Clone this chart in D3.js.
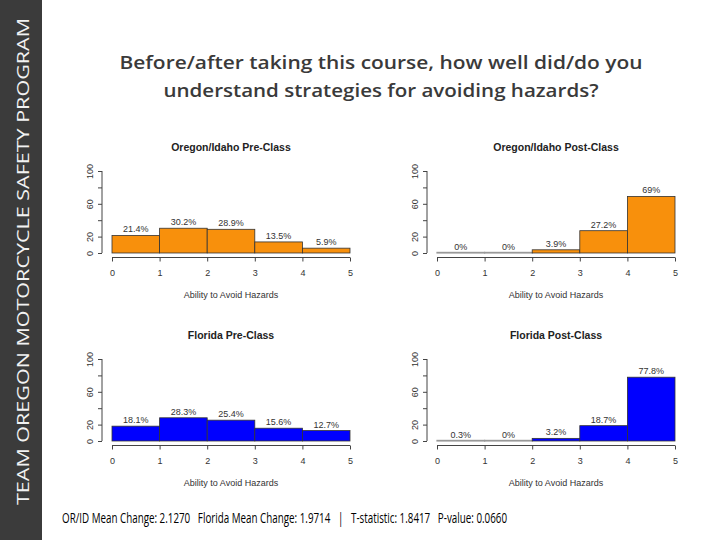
<!DOCTYPE html>
<html>
<head>
<meta charset="utf-8">
<script src="https://cdn.jsdelivr.net/npm/d3@7"></script>
<style>
  body { margin: 0; background: #fff; }
  svg { display: block; }
</style>
</head>
<body>
<svg id="chart" width="720" height="540"></svg>
<script>
// data
const binEdges = [0, 1, 2, 3, 4, 5];
const yTicks = [0, 20, 40, 60, 80, 100];
const yTickLabels = [0, 20, 60, 100];
const panelTitles = ["Oregon/Idaho Pre-Class", "Oregon/Idaho Post-Class", "Florida Pre-Class", "Florida Post-Class"];
const orPre = [21.4, 30.2, 28.9, 13.5, 5.9];
const orPost = [0, 0, 3.9, 27.2, 69];
const flPre = [18.1, 28.3, 25.4, 15.6, 12.7];
const flPost = [0.3, 0, 3.2, 18.7, 77.8];
const panelColors = ["#f8900c", "#f8900c", "#0000ff", "#0000ff"];
const xLabel = "Ability to Avoid Hazards";
const headingLines = ["Before/after taking this course, how well did/do you", "understand strategies for avoiding hazards?"];
const headingWidths = [523, 435];
const footer = "OR/ID Mean Change: 2.1270   Florida Mean Change: 1.9714   |   T-statistic: 1.8417   P-value: 0.0660";
const sidebar = "TEAM OREGON MOTORCYCLE SAFETY PROGRAM";

const svg = d3.select("#chart");

// sidebar
svg.append("rect").attr("x", 0).attr("y", 0).attr("width", 42).attr("height", 540).attr("fill", "#3b3b3b");
svg.append("text")
  .attr("transform", "translate(29,505) rotate(-90)")
  .attr("font-family", "Open Sans, sans-serif")
  .attr("font-size", 17)
  .attr("fill", "#f2f2f2")
  .attr("textLength", 487)
  .attr("lengthAdjust", "spacingAndGlyphs")
  .text(sidebar);

// heading, two lines
svg.selectAll("text.heading")
  .data(headingLines)
  .join("text")
  .attr("class", "heading")
  .attr("x", 381)
  .attr("y", (d, i) => 69 + i * 28)
  .attr("text-anchor", "middle")
  .attr("font-family", "Open Sans, sans-serif")
  .attr("font-size", 18)
  .attr("font-weight", 600)
  .attr("fill", "#3a3a3a")
  .attr("textLength", (d, i) => headingWidths[i])
  .attr("lengthAdjust", "spacingAndGlyphs")
  .text(d => d);

// footer
svg.append("text")
  .attr("x", 62).attr("y", 523)
  .attr("font-family", "Liberation Sans Narrow, Open Sans, sans-serif")
  .attr("font-size", 14)
  .attr("fill", "#000")
  .attr("textLength", 445)
  .attr("lengthAdjust", "spacingAndGlyphs")
  .attr("xml:space", "preserve")
  .text(footer);

const panelData = [orPre, orPost, flPre, flPost];
const colX = [112, 437];
const rowY = [253, 441];
const plotW = 238, plotH = 82;

panelData.forEach((vals, i) => {
  const x0 = colX[i % 2], y0 = rowY[Math.floor(i / 2)];
  const x = d3.scaleLinear().domain([0, 5]).range([x0, x0 + plotW]);
  const y = d3.scaleLinear().domain([0, 100]).range([y0, y0 - plotH]);
  const g = svg.append("g").attr("font-family", "Liberation Sans, Arial, sans-serif");

  const bins = vals.map((v, k) => ({ lo: binEdges[k], hi: binEdges[k + 1], v }));

  // tiny bars collapse to a grey outline, as in R
  g.selectAll("rect.bar")
    .data(bins)
    .join("rect")
    .attr("class", "bar")
    .attr("x", d => x(d.lo))
    .attr("width", d => x(d.hi) - x(d.lo))
    .attr("y", d => Math.min(y(d.v), y(0) - 0.6))
    .attr("height", d => Math.max(y(0) - y(d.v), 0.6))
    .attr("fill", d => d.v < 1 ? "#999" : panelColors[i])
    .attr("stroke", d => d.v < 1 ? "#999" : "#333")
    .attr("stroke-width", d => d.v < 1 ? 1.2 : 0.8);

  g.selectAll("text.val")
    .data(bins)
    .join("text")
    .attr("class", "val")
    .attr("x", d => x((d.lo + d.hi) / 2))
    .attr("y", d => y(d.v) - 3)
    .attr("text-anchor", "middle")
    .attr("font-size", 9)
    .attr("fill", "#333")
    .text(d => d.v + "%");

  // x axis
  const xAxis = g.append("g")
    .attr("transform", `translate(0,${y0 + 4.5})`)
    .call(d3.axisBottom(x).tickValues(binEdges).tickSize(4).tickPadding(8).tickFormat(d3.format("d")));
  xAxis.select(".domain").attr("stroke", "#444").attr("d", `M${x0},0H${x0 + plotW}`);
  xAxis.selectAll(".tick line").attr("stroke", "#444");
  xAxis.selectAll(".tick text").attr("font-size", 9).attr("fill", "#333").attr("font-family", "Liberation Sans, Arial, sans-serif");

  // y axis
  const yAxis = g.append("g")
    .attr("transform", `translate(${x0 - 10},0)`)
    .call(d3.axisLeft(y).tickValues(yTicks).tickSize(4).tickFormat(d => yTickLabels.includes(d) ? d : ""));
  yAxis.select(".domain").attr("stroke", "#444").attr("d", `M0,${y0}V${y0 - plotH}`);
  yAxis.selectAll(".tick line").attr("stroke", "#444");
  yAxis.selectAll(".tick text")
    .attr("font-size", 9).attr("fill", "#333").attr("font-family", "Liberation Sans, Arial, sans-serif")
    .attr("x", null).attr("dy", null)
    .attr("text-anchor", "middle")
    .attr("transform", "translate(-9,0) rotate(-90)");

  g.append("text")
    .attr("x", x0 + plotW / 2).attr("y", y0 + 45)
    .attr("text-anchor", "middle")
    .attr("font-size", 9)
    .attr("fill", "#333")
    .text(xLabel);

  g.append("text")
    .attr("x", x0 + plotW / 2).attr("y", y0 - 102)
    .attr("text-anchor", "middle")
    .attr("font-size", 10.5)
    .attr("font-weight", "bold")
    .attr("fill", "#222")
    .text(panelTitles[i]);
});
</script>
</body>
</html>
